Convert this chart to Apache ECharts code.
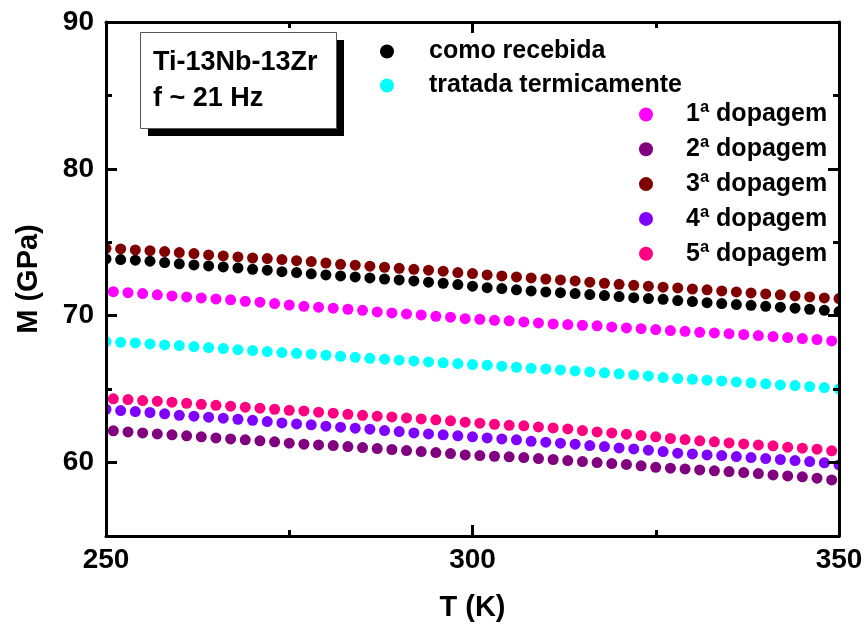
<!DOCTYPE html>
<html>
<head>
<meta charset="utf-8">
<script src="https://cdn.jsdelivr.net/npm/echarts@6/dist/echarts.min.js"></script>
<style>
  html, body { margin: 0; padding: 0; background: #fff; }
  #chart { width: 866px; height: 624px; }
</style>
</head>
<body>
<div id="chart"></div>
<script>
// Temperature grids (K)
const tempsEven = [250,252,254,256,258,260,262,264,266,268,270,272,274,276,278,280,282,284,286,288,290,292,294,296,298,300,302,304,306,308,310,312,314,316,318,320,322,324,326,328,330,332,334,336,338,340,342,344,346,348,350];
const tempsOdd = [251,253,255,257,259,261,263,265,267,269,271,273,275,277,279,281,283,285,287,289,291,293,295,297,299,301,303,305,307,309,311,313,315,317,319,321,323,325,327,329,331,333,335,337,339,341,343,345,347,349];

// Modulus M (GPa) for each sample state
const comoRecebida = [73.87,73.82,73.78,73.71,73.62,73.53,73.46,73.39,73.32,73.25,73.16,73.10,73.00,
  72.94,72.85,72.78,72.71,72.64,72.57,72.50,72.44,72.37,72.28,72.21,72.12,72.01,
  71.91,71.85,71.76,71.69,71.62,71.57,71.51,71.44,71.37,71.30,71.23,71.17,
  71.12,71.03,70.96,70.89,70.83,70.76,70.71,70.64,70.58,70.51,70.44,70.37,70.28];
const tratadaTermicamente = [68.24,68.19,68.15,68.08,68.01,67.97,67.90,67.83,67.76,67.69,67.63,67.56,67.49,
  67.44,67.38,67.31,67.24,67.17,67.10,67.04,66.97,66.92,66.85,66.79,66.74,66.67,
  66.63,66.56,66.49,66.42,66.38,66.31,66.24,66.17,66.11,66.04,65.97,65.90,
  65.79,65.72,65.67,65.61,65.56,65.49,65.43,65.36,65.29,65.24,65.18,65.11,65.02];
const dopagem1 = [71.64,71.57,71.51,71.42,71.35,71.28,71.21,71.14,71.08,70.98,70.92,70.83,70.73,
  70.64,70.58,70.51,70.44,70.37,70.26,70.19,70.12,70.05,69.96,69.90,69.80,
  69.76,69.69,69.65,69.58,69.51,69.44,69.40,69.35,69.31,69.24,69.17,69.12,69.06,
  68.99,68.94,68.87,68.83,68.78,68.72,68.65,68.58,68.51,68.44,68.38,68.28];
const dopagem2 = [62.16,62.09,62.02,61.95,61.89,61.82,61.75,61.68,61.61,61.55,61.48,61.41,61.32,
  61.25,61.20,61.16,61.09,61.02,60.95,60.89,60.82,60.75,60.68,60.61,60.52,
  60.48,60.43,60.39,60.34,60.27,60.21,60.14,60.07,60.00,59.93,59.87,59.78,59.68,
  59.62,59.57,59.50,59.44,59.39,59.32,59.25,59.16,59.09,59.03,58.94,58.82];
const dopagem3 = [74.59,74.55,74.48,74.43,74.37,74.30,74.23,74.14,74.07,74.00,73.93,73.89,73.82,
  73.75,73.69,73.59,73.50,73.44,73.37,73.30,73.23,73.16,73.10,73.03,72.94,72.87,
  72.78,72.71,72.64,72.57,72.50,72.44,72.37,72.28,72.21,72.14,72.07,72.01,
  71.94,71.89,71.82,71.76,71.69,71.62,71.55,71.48,71.42,71.35,71.28,71.21,71.17];
const dopagem4 = [63.63,63.54,63.47,63.41,63.32,63.22,63.16,63.09,63.02,62.95,62.88,62.79,62.70,
  62.63,62.57,62.48,62.41,62.34,62.27,62.18,62.11,62.02,61.95,61.89,61.82,61.75,
  61.68,61.61,61.55,61.45,61.39,61.32,61.25,61.16,61.09,61.00,60.93,60.84,
  60.75,60.64,60.59,60.52,60.48,60.41,60.34,60.27,60.21,60.14,60.07,59.98,59.84];
const dopagem5 = [64.34,64.29,64.22,64.18,64.11,64.04,63.97,63.90,63.84,63.77,63.70,63.63,63.56,
  63.52,63.43,63.36,63.29,63.22,63.16,63.11,63.04,62.97,62.91,62.84,62.75,
  62.68,62.61,62.54,62.50,62.43,62.36,62.29,62.18,62.09,62.02,61.93,61.84,61.75,
  61.64,61.57,61.48,61.41,61.34,61.27,61.20,61.14,61.05,60.98,60.91,60.80];

// Axis ticks
const xMajorTicks = [250, 300, 350];
const xMinorTicks = [275, 325];
const yMajorTicks = [60, 70, 80, 90];
const yMinorTicks = [65, 75, 85];

const seriesDefs = [
  { name: 'como recebida', temps: tempsEven, values: comoRecebida, color: '#000000' },
  { name: 'tratada termicamente', temps: tempsEven, values: tratadaTermicamente, color: '#00FFFF' },
  { name: '1ª dopagem', temps: tempsOdd, values: dopagem1, color: '#FF00FF' },
  { name: '2ª dopagem', temps: tempsOdd, values: dopagem2, color: '#800080' },
  { name: '3ª dopagem', temps: tempsEven, values: dopagem3, color: '#800000' },
  { name: '4ª dopagem', temps: tempsEven, values: dopagem4, color: '#8000FF' },
  { name: '5ª dopagem', temps: tempsOdd, values: dopagem5, color: '#FF0080' }
];

const FONT = '"Liberation Sans", Arial, Helvetica, sans-serif';
const DOT_RADIUS = 5.5;
const chart = echarts.init(document.getElementById('chart'), null, { renderer: 'canvas' });

function xAxisDef(position, ticks, len, withLabels, withLine, extra) {
  return Object.assign({
    type: 'value', position: position, min: 250, max: 350, z: 5,
    axisLine: { show: withLine, onZero: false, lineStyle: { color: '#000', width: 3 } },
    axisTick: { show: true, inside: true, length: len, customValues: ticks, lineStyle: { color: '#000', width: 3 } },
    axisLabel: withLabels ? { show: true, customValues: ticks, margin: 10, color: '#000', fontFamily: FONT, fontWeight: 'bold', fontSize: 28 } : { show: false },
    splitLine: { show: false }
  }, extra || {});
}
function yAxisDef(position, ticks, len, withLabels, withLine, extra) {
  return Object.assign({
    type: 'value', position: position, min: 55, max: 90, z: 5,
    axisLine: { show: withLine, onZero: false, lineStyle: { color: '#000', width: 3 } },
    axisTick: { show: true, inside: true, length: len, customValues: ticks, lineStyle: { color: '#000', width: 3 } },
    axisLabel: withLabels ? { show: true, customValues: ticks, margin: 12, color: '#000', fontFamily: FONT, fontWeight: 'bold', fontSize: 28 } : { show: false },
    splitLine: { show: false }
  }, extra || {});
}

// Filled dots, clipped to the plot frame
function dotRenderer(color) {
  return function (params, api) {
    const p = api.coord([api.value(0), api.value(1)]);
    return { type: 'circle', shape: { cx: p[0], cy: p[1], r: DOT_RADIUS }, style: { fill: color } };
  };
}

const option = {
  backgroundColor: '#fff',
  animation: false,
  grid: { left: 106, top: 22, right: 27, bottom: 88, containLabel: false, outerBoundsMode: 'none' },
  xAxis: [
    xAxisDef('bottom', xMajorTicks, 11, true, true, {
      name: 'T (K)', nameLocation: 'middle', nameGap: 57,
      nameTextStyle: { color: '#000', fontFamily: FONT, fontWeight: 'bold', fontSize: 29 }
    }),
    xAxisDef('bottom', xMinorTicks, 6, false, false),
    xAxisDef('top', xMajorTicks, 11, false, true),
    xAxisDef('top', xMinorTicks, 6, false, false)
  ],
  yAxis: [
    yAxisDef('left', yMajorTicks, 11, true, true, {
      name: 'M (GPa)', nameLocation: 'middle', nameGap: 63, nameRotate: 90,
      nameTextStyle: { color: '#000', fontFamily: FONT, fontWeight: 'bold', fontSize: 29 }
    }),
    yAxisDef('left', yMinorTicks, 6, false, false),
    yAxisDef('right', yMajorTicks, 11, false, true),
    yAxisDef('right', yMinorTicks, 6, false, false)
  ],
  legend: [
    {
      orient: 'vertical', left: 375, top: 34, itemGap: 9,
      icon: 'circle', itemWidth: 14, itemHeight: 14,
      data: ['como recebida', 'tratada termicamente'],
      textStyle: { color: '#000', fontFamily: FONT, fontWeight: 'bold', fontSize: 25, lineHeight: 24, padding: [0, 0, 0, 30] }
    },
    {
      orient: 'vertical', left: 634, top: 97, itemGap: 9.8,
      icon: 'circle', itemWidth: 14, itemHeight: 14,
      data: ['1ª dopagem', '2ª dopagem', '3ª dopagem', '4ª dopagem', '5ª dopagem'],
      textStyle: { color: '#000', fontFamily: FONT, fontWeight: 'bold', fontSize: 25, lineHeight: 24, padding: [0, 0, 0, 28] }
    }
  ],
  graphic: [
    { type: 'rect', left: 148, top: 40, shape: { width: 196, height: 96 }, style: { fill: '#000' }, z: 10 },
    { type: 'rect', left: 140, top: 32, shape: { width: 196, height: 96 }, style: { fill: '#fff', stroke: '#555', lineWidth: 1 }, z: 11 },
    { type: 'text', left: 153, top: 49, z: 12,
      style: { text: 'Ti-13Nb-13Zr', fill: '#000', font: 'bold 27px ' + FONT } },
    { type: 'text', left: 153, top: 85, z: 12,
      style: { text: 'f ~ 21 Hz', fill: '#000', font: 'bold 27px ' + FONT } }
  ],
  series: seriesDefs.map(function (s) {
    return {
      name: s.name, type: 'custom', xAxisIndex: 0, yAxisIndex: 0,
      clip: true,
      itemStyle: { color: s.color },
      encode: { x: 0, y: 1 },
      renderItem: dotRenderer(s.color),
      data: s.temps.map(function (t, i) { return [t, s.values[i]]; })
    };
  })
};

chart.setOption(option);
</script>
</body>
</html>
